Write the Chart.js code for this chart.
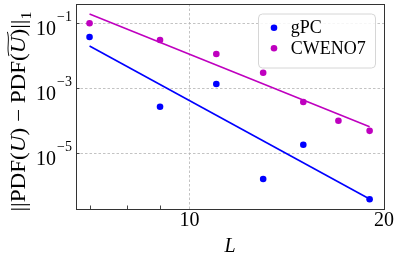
<!DOCTYPE html>
<html>
<head>
<meta charset="UTF-8">
<title>PDF error vs L</title>
<script src="https://cdn.jsdelivr.net/npm/chart.js@4.4.0/dist/chart.umd.min.js"></script>
<style>
  html,body{margin:0;padding:0;background:#fff;}
</style>
</head>
<body>
<canvas id="chart" width="400" height="260"></canvas>
<script>
// data
const levels=[7,9,11,13,15,17,19];
const gpcLevels=[7,9,11,13,15,19];
const gpcErr=[0.038,2.7e-4,1.35e-3,1.62e-6,1.84e-5,3.85e-7];
const cwenoErr=[0.1,0.0306,0.01135,0.0030,3.8e-4,1.0e-4,4.9e-5];
const fitLevels=[7,19];
const gpcFit=[0.020,3.9e-7];
const cwenoFit=[0.193,6.6e-5];
const yTicks=[1e-5,1e-3,1e-1];
const yTickExp=["\u22125","\u22123","\u22121"];
const xMajor=[10,20];
const xMinor=[7,8,9];

const BLUE='#0000ff', MAG='#bf00bf';
const serif='"Liberation Serif","DejaVu Serif",serif';
const pts=(xs,ys)=>xs.map((x,i)=>({x:x,y:ys[i]}));

const decor={
  id:'decor',
  afterDraw(chart){
    const ctx=chart.ctx, a=chart.chartArea, xs=chart.scales.x, ys=chart.scales.y;
    ctx.save();
    // inward minor ticks
    ctx.strokeStyle='#444'; ctx.lineWidth=1;
    xMinor.forEach(v=>{
      const px=Math.round(xs.getPixelForValue(v))+0.5;
      ctx.beginPath(); ctx.moveTo(px,a.bottom); ctx.lineTo(px,a.bottom-3.5); ctx.stroke();
    });
    yTicks.forEach(v=>{
      const py=Math.round(ys.getPixelForValue(v))+0.5;
      ctx.beginPath(); ctx.moveTo(a.left,py); ctx.lineTo(a.left+3.5,py); ctx.stroke();
    });
    // frame
    ctx.strokeStyle='#333'; ctx.lineWidth=1;
    ctx.strokeRect(Math.round(a.left)+0.5,Math.round(a.top)+0.5,Math.round(a.right-a.left),Math.round(a.bottom-a.top));

    // y tick labels 10^n
    ctx.fillStyle='#000';
    yTicks.forEach((v,i)=>{
      const py=ys.getPixelForValue(v);
      ctx.font='14px '+serif;
      const we=ctx.measureText(yTickExp[i]).width;
      const xr=72;
      ctx.textAlign='left'; ctx.textBaseline='alphabetic';
      ctx.fillText(yTickExp[i],xr-we,py-2);
      ctx.font='20px '+serif;
      const wb=ctx.measureText('10').width;
      ctx.fillText('10',xr-we-1-wb,py+11.4);
    });

    // x title
    ctx.font='italic 20px '+serif;
    ctx.textAlign='center';
    ctx.fillText('L',(a.left+a.right)/2,251.5);

    // y title, rotated
    const f=20;
    const reg=f+'px '+serif, ita='italic '+f+'px '+serif, sub=Math.round(f*0.7)+'px '+serif;
    const runs=[
      {t:'||PDF(',font:reg},{t:'U',font:ita},{t:') \u2212 PDF(',font:reg},
      {t:'U',font:ita,tilde:true},{t:')||',font:reg},{t:'1',font:sub,dy:f*0.28}
    ];
    let W=0;
    runs.forEach(r=>{ctx.font=r.font; r.w=ctx.measureText(r.t).width; W+=r.w;});
    const target=200, k=target/W;
    ctx.translate(25,111.5);
    ctx.rotate(-Math.PI/2);
    ctx.scale(k,1);
    ctx.textAlign='left';
    let cx=-W/2;
    runs.forEach(r=>{
      ctx.font=r.font;
      ctx.fillText(r.t,cx,r.dy||0);
      if(r.tilde){
        const x0=cx-f*0.12, x1=cx+r.w+f*0.2;
        ctx.strokeStyle='#000'; ctx.lineWidth=0.9;
        ctx.beginPath();
        ctx.moveTo(x0,-f*0.80);
        ctx.bezierCurveTo(x0+(x1-x0)*0.35,-f*0.94,x0+(x1-x0)*0.65,-f*0.74,x1,-f*0.88);
        ctx.stroke();
      }
      cx+=r.w;
    });
    ctx.restore();

    // legend inside the axes
    ctx.save();
    const lx=258, ly=13.5, lw=117, lh=54;
    ctx.fillStyle='rgba(255,255,255,0.85)';
    ctx.strokeStyle='#d6d6d6'; ctx.lineWidth=1;
    ctx.beginPath(); ctx.roundRect(lx+0.5,ly+0.5,lw,lh,4); ctx.fill(); ctx.stroke();
    ctx.font='18px '+serif; ctx.textBaseline='middle'; ctx.textAlign='left';
    chart.data.datasets.slice(0,2).forEach((ds,i)=>{
      const yy=ly+14.2+i*20.6;
      ctx.fillStyle=ds.backgroundColor;
      ctx.beginPath(); ctx.arc(lx+16,yy,3.3,0,Math.PI*2); ctx.fill();
      ctx.fillStyle='#000';
      ctx.fillText(ds.label,lx+32.7,yy+1);
    });
    ctx.restore();
  }
};

new Chart(document.getElementById('chart'),{
  type:'scatter',
  data:{datasets:[
    {label:'gPC',data:pts(gpcLevels,gpcErr),showLine:false,pointRadius:3.3,pointHoverRadius:3.3,
     pointBorderWidth:0,backgroundColor:BLUE,borderColor:BLUE,order:1},
    {label:'CWENO7',data:pts(levels,cwenoErr),showLine:false,pointRadius:3.3,pointHoverRadius:3.3,
     pointBorderWidth:0,backgroundColor:MAG,borderColor:MAG,order:1},
    {label:'gPC fit',data:pts(fitLevels,gpcFit),showLine:true,pointRadius:0,
     borderColor:BLUE,backgroundColor:BLUE,borderWidth:1.6,fill:false,order:2},
    {label:'CWENO7 fit',data:pts(fitLevels,cwenoFit),showLine:true,pointRadius:0,
     borderColor:MAG,backgroundColor:MAG,borderWidth:1.6,fill:false,order:2}
  ]},
  options:{
    responsive:false,
    animation:false,
    layout:{padding:{top:4,right:16,left:0,bottom:0}},
    plugins:{legend:{display:false},tooltip:{enabled:false}},
    scales:{
      x:{
        type:'logarithmic',min:6.67,max:20,
        afterBuildTicks:s=>{s.ticks=xMinor.concat(xMajor).map(v=>({value:v}));},
        ticks:{autoSkip:false,maxRotation:0,padding:0,color:'#000',
          font:{family:serif,size:20},
          callback:v=>xMajor.includes(v)?String(v):''},
        grid:{drawTicks:false,lineWidth:0.8,
          color:c=>(c.tick&&xMajor.includes(c.tick.value))?'#b4b4b4':'rgba(0,0,0,0)'},
        border:{display:false,dash:[2.5,2]},
        afterFit:s=>{s.height=51;}
      },
      y:{
        type:'logarithmic',min:1.93e-7,max:0.393,
        afterBuildTicks:s=>{s.ticks=yTicks.map(v=>({value:v}));},
        ticks:{display:false},
        grid:{drawTicks:false,lineWidth:0.8,color:'#b4b4b4'},
        border:{display:false,dash:[2.5,2]},
        afterFit:s=>{s.width=76;}
      }
    }
  },
  plugins:[decor]
});
</script>
</body>
</html>
